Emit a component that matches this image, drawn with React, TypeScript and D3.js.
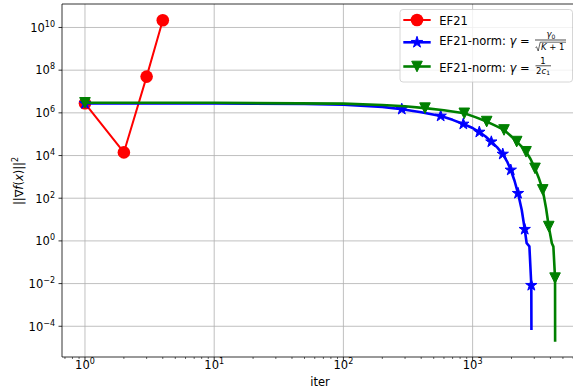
import React from 'react';
import * as d3 from 'd3';

const W = 573;
const H = 390;
const plot = { left: 62, top: 4, right: 578, bottom: 357 };

// EF21
const ef21Iter = [1, 2, 3, 4];
const ef21Val = [2.8e6, 1.4e4, 5e7, 2.2e10];

// EF21-norm, gamma = gamma0 / sqrt(K+1)
const sqrtIter = [1, 10, 50, 100, 200, 283, 400, 566, 700, 847, 1000, 1127, 1260, 1396, 1550, 1711, 1850, 1974, 2110, 2246, 2400, 2531, 2620, 2750, 2846, 2852];
const sqrtVal = [2.75e6, 2.75e6, 2.63e6, 2.4e6, 1.9e6, 1.48e6, 1.07e6, 7.1e5, 4.7e5, 3.0e5, 1.95e5, 1.26e5, 7.8e4, 4.4e4, 2.4e4, 1.17e4, 5.2e3, 2.1e3, 660, 170, 28, 3.5, 0.78, 0.56, 8.3e-3, 6.6e-5];
const sqrtMarkIter = [1, 283, 566, 847, 1127, 1396, 1711, 1974, 2246, 2531, 2846];
const sqrtMarkVal = [2.75e6, 1.48e6, 7.1e5, 3.0e5, 1.26e5, 4.4e4, 1.17e4, 2.1e3, 170, 3.5, 8.3e-3];

// EF21-norm, gamma = 1 / (2 c1)
const constIter = [1, 10, 100, 200, 300, 428, 600, 862, 1050, 1285, 1500, 1750, 1950, 2194, 2400, 2590, 2800, 3040, 3250, 3489, 3700, 3884, 4104, 4217, 4345, 4350];
const constVal = [2.95e6, 2.95e6, 2.7e6, 2.35e6, 2.05e6, 1.66e6, 1.32e6, 9.5e5, 6.3e5, 3.9e5, 2.5e5, 1.58e5, 8.9e4, 4.5e4, 2.6e4, 1.5e4, 7.1e3, 2.5e3, 890, 245, 35, 4.7, 0.78, 0.54, 1.8e-2, 1.9e-5];
const constMarkIter = [1, 428, 862, 1285, 1750, 2194, 2590, 3040, 3489, 3884, 4345];
const constMarkVal = [2.95e6, 1.66e6, 9.5e5, 3.9e5, 1.58e5, 4.5e4, 1.5e4, 2.5e3, 245, 4.7, 1.8e-2];

const xTickExp = [0, 1, 2, 3];
const yTickExp = [-4, -2, 0, 2, 4, 6, 8, 10];

const RED = '#ff0000';
const BLUE = '#0000ff';
const GREEN = '#008000';
const FONT = 'DejaVu Sans, sans-serif';

const x = d3.scaleLog().domain([0.664, 6540]).range([plot.left, plot.right]);
const y = d3.scaleLog().domain([3.63e-6, 1.26e11]).range([plot.bottom, plot.top]);

const minorX: number[] = [];
for (let e = -1; e <= 3; e++) {
  for (let m = 2; m <= 9; m++) {
    const v = m * Math.pow(10, e);
    if (v > 0.664 && v < 6540) minorX.push(v);
  }
}

const line = d3
  .line<[number, number]>()
  .x(d => x(d[0]))
  .y(d => y(d[1]));

const zip = (a: number[], b: number[]) => a.map((v, i) => [v, b[i]] as [number, number]);

const star = d3.symbol(d3.symbolStar, 40)() as string;
const tri = (h: number) => `M0,${h}L${-h},${-h}L${h},${-h}Z`;

const sup = (e: number) => (e < 0 ? '\u2212' + Math.abs(e) : String(e));

const App: React.FC = () => {
  return (
    <svg
      width={W}
      height={H}
      style={{ position: 'absolute', left: 0, top: 0, background: '#fff' }}
      fontFamily={FONT}
    >
      <defs>
        <clipPath id="plotclip">
          <rect x={plot.left} y={plot.top} width={plot.right - plot.left} height={plot.bottom - plot.top} />
        </clipPath>
      </defs>
      <rect x={0} y={0} width={W} height={H} fill="#fff" />

      {/* grid */}
      <g stroke="#b0b0b0" strokeWidth={0.8}>
        {xTickExp.map(e => (
          <line key={'gx' + e} x1={x(10 ** e)} x2={x(10 ** e)} y1={plot.top} y2={plot.bottom} />
        ))}
        {yTickExp.map(e => (
          <line key={'gy' + e} x1={plot.left} x2={plot.right} y1={y(10 ** e)} y2={y(10 ** e)} />
        ))}
      </g>

      {/* series */}
      <g clipPath="url(#plotclip)">
        <path d={line(zip(ef21Iter, ef21Val)) as string} fill="none" stroke={RED} strokeWidth={2} />
        {ef21Iter.map((it, i) => (
          <circle key={'r' + i} cx={x(it)} cy={y(ef21Val[i])} r={6.3} fill={RED} />
        ))}
        <path d={line(zip(sqrtIter, sqrtVal)) as string} fill="none" stroke={BLUE} strokeWidth={2.6} strokeLinejoin="round" />
        {sqrtMarkIter.map((it, i) => (
          <path key={'b' + i} d={star} transform={`translate(${x(it)},${y(sqrtMarkVal[i])})`} fill={BLUE} stroke={BLUE} strokeWidth={1} />
        ))}
        <path d={line(zip(constIter, constVal)) as string} fill="none" stroke={GREEN} strokeWidth={2.6} strokeLinejoin="round" />
        {constMarkIter.map((it, i) => (
          <path key={'g' + i} d={tri(5.3)} transform={`translate(${x(it)},${y(constMarkVal[i])})`} fill={GREEN} stroke={GREEN} strokeWidth={1} />
        ))}
      </g>

      {/* spines */}
      <g stroke="#000" strokeWidth={0.8} fill="none">
        <line x1={plot.left} x2={plot.left} y1={plot.top} y2={plot.bottom} />
        <line x1={plot.left} x2={plot.right} y1={plot.bottom} y2={plot.bottom} />
        <line x1={plot.left} x2={plot.right} y1={plot.top} y2={plot.top} />
      </g>

      {/* x ticks */}
      <g stroke="#000" strokeWidth={0.8}>
        {xTickExp.map(e => (
          <line key={'tx' + e} x1={x(10 ** e)} x2={x(10 ** e)} y1={plot.bottom} y2={plot.bottom + 3.5} />
        ))}
        {minorX.map(v => (
          <line key={'mx' + v} x1={x(v)} x2={x(v)} y1={plot.bottom} y2={plot.bottom + 2} strokeWidth={0.6} />
        ))}
        {yTickExp.map(e => (
          <line key={'ty' + e} x1={plot.left - 3.5} x2={plot.left} y1={y(10 ** e)} y2={y(10 ** e)} />
        ))}
      </g>
      <g fontSize={11.5} fill="#000">
        {xTickExp.map(e => (
          <text key={'lx' + e} x={x(10 ** e)} y={369} textAnchor="middle">
            10<tspan fontSize={8} dy={-5}>{sup(e)}</tspan>
          </text>
        ))}
        {yTickExp.map(e => (
          <text key={'ly' + e} x={plot.left - 7} y={y(10 ** e) + 4.3} textAnchor="end">
            10<tspan fontSize={8} dy={-5}>{sup(e)}</tspan>
          </text>
        ))}
      </g>

      {/* axis labels */}
      <text x={(plot.left + plot.right) / 2} y={386} textAnchor="middle" fontSize={11.5}>
        iter
      </text>
      <text transform="translate(23,181) rotate(-90)" textAnchor="middle" fontSize={11.5}>
        ||∇<tspan fontStyle="italic">f</tspan>(<tspan fontStyle="italic">x</tspan>)||<tspan fontSize={8} dy={-5}>2</tspan>
      </text>

      {/* legend */}
      <g>
        <rect x={400} y={9.5} width={172.5} height={72.5} rx={3} fill="#fff" fillOpacity={0.8} stroke="#cccccc" strokeWidth={0.8} />
        <line x1={403.3} x2={430.7} y1={20} y2={20} stroke={RED} strokeWidth={2} />
        <circle cx={417} cy={20} r={6.3} fill={RED} />
        <line x1={403.3} x2={430.7} y1={42.3} y2={42.3} stroke={BLUE} strokeWidth={2.6} />
        <path d={star} transform="translate(417,42.3)" fill={BLUE} stroke={BLUE} strokeWidth={1} />
        <line x1={403.3} x2={430.7} y1={66.5} y2={66.5} stroke={GREEN} strokeWidth={2.6} />
        <path d={tri(5.3)} transform="translate(417,66.5)" fill={GREEN} stroke={GREEN} strokeWidth={1} />

        <g fontSize={11.5} fill="#000">
          <text x={439.3} y={25}>EF21</text>
          <text x={439.3} y={45.3}>
            EF21-norm: <tspan fontStyle="italic">γ</tspan> =
          </text>
          <text x={439.3} y={72}>
            EF21-norm: <tspan fontStyle="italic">γ</tspan> =
          </text>
        </g>
        {/* fraction gamma0 / sqrt(K+1) */}
        <g fontSize={8.5} fill="#000">
          <text x={551} y={37} textAnchor="middle">
            <tspan fontStyle="italic">γ</tspan>
            <tspan fontSize={6} dy={1.5}>0</tspan>
          </text>
          <line x1={535} x2={566} y1={40} y2={40} stroke="#000" strokeWidth={0.7} />
          <path d="M535.5,47.5L536.6,46.8L538.2,51L540.2,42.2L566,42.2" fill="none" stroke="#000" strokeWidth={0.6} />
          <text x={541} y={50}>
            <tspan fontStyle="italic">K</tspan> + 1
          </text>
        </g>
        {/* fraction 1 / (2 c1) */}
        <g fontSize={8.5} fill="#000">
          <text x={543} y={63.8} textAnchor="middle">1</text>
          <line x1={535.5} x2={551} y1={65.8} y2={65.8} stroke="#000" strokeWidth={0.7} />
          <text x={543} y={73.5} textAnchor="middle">
            2<tspan fontStyle="italic">c</tspan>
            <tspan fontSize={6} dy={1.5}>1</tspan>
          </text>
        </g>
      </g>
    </svg>
  );
};

export default App;
